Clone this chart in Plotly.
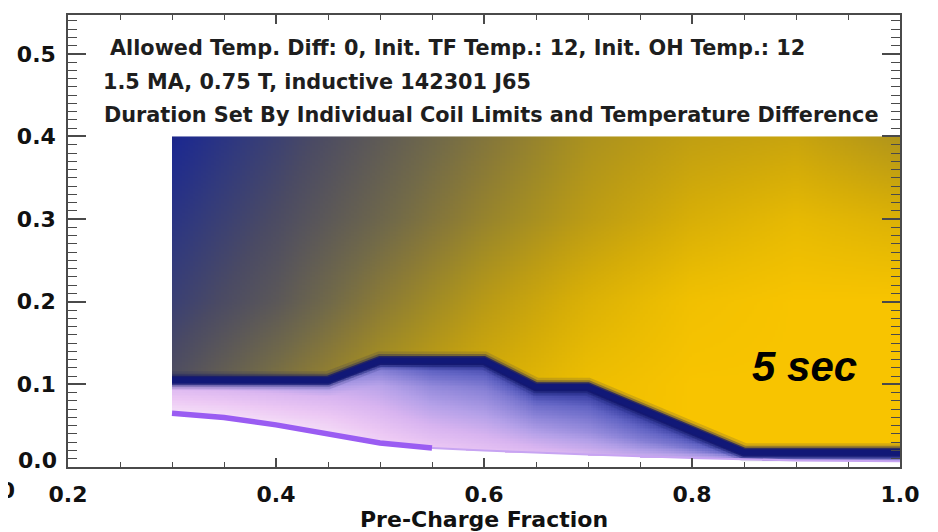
import numpy as np
import plotly.graph_objects as go

# ---------------- data ----------------
x_tick_vals = [0.2, 0.4, 0.6, 0.8, 1.0]
x_tick_text = ["0.2", "0.4", "0.6", "0.8", "1.0"]
y_tick_vals = [0.1, 0.2, 0.3, 0.4, 0.5]
y_tick_text = ["0.1", "0.2", "0.3", "0.4", "0.5"]

# edge of the individual-coil-limit region (dark blue band)
step_x = [0.30, 0.45, 0.50, 0.60, 0.65, 0.70, 0.85, 1.00]
step_y = [0.105, 0.105, 0.129, 0.129, 0.097, 0.097, 0.018, 0.018]

# lower edge of the data (purple line)
low_x = [0.30, 0.35, 0.40, 0.45, 0.50, 0.55, 0.60, 0.70, 0.80, 0.90, 1.00]
low_y = [0.065, 0.060, 0.051, 0.040, 0.029, 0.023, 0.020, 0.015, 0.011, 0.008, 0.007]

# duration above the band (estimated colour level, 5 = "5 sec")
up_x = [0.3, 0.4, 0.5, 0.6, 0.7, 0.8, 0.9, 1.0]
up_y = [0.0, 0.1, 0.2, 0.3, 0.4]
up_vals = [
    [2.90, 3.50, 4.10, 4.55, 4.90, 5.00, 5.00, 5.00],
    [2.80, 3.45, 4.05, 4.50, 4.85, 5.00, 5.00, 5.00],
    [2.50, 2.95, 3.60, 4.15, 4.60, 4.90, 5.00, 5.00],
    [2.30, 2.72, 3.22, 3.75, 4.20, 4.55, 4.75, 4.60],
    [2.10, 2.52, 3.00, 3.50, 4.00, 4.25, 4.35, 4.05],
]

# level below the band, at fractional heights between lower edge and band
lower_x = [0.30, 0.45, 0.55, 0.65, 0.75, 0.85, 1.00]
lower_t = [0.0, 0.35, 0.7, 0.9, 1.0]
lower_vals = [
    [0.35, 0.55, 0.75, 1.10, 2.0],
    [0.40, 0.60, 0.85, 1.20, 2.0],
    [0.60, 0.95, 1.30, 1.65, 2.0],
    [0.75, 1.15, 1.50, 1.78, 2.0],
    [0.95, 1.40, 1.68, 1.86, 2.0],
    [1.00, 1.50, 1.80, 1.90, 2.0],
    [1.00, 1.50, 1.80, 1.90, 2.0],
]

colors = [
    (0.00, "#ffffff"), (0.07, "#f6e2f8"), (0.12, "#ecc8f4"), (0.17, "#d8b4f0"),
    (0.22, "#b4a0e8"), (0.27, "#8c84d8"), (0.32, "#6264c4"), (0.36, "#3a40a4"),
    (0.40, "#161c7c"), (0.43, "#1e2a8e"), (0.48, "#323a7c"), (0.54, "#4a4a64"),
    (0.60, "#5e5a56"), (0.66, "#726a48"), (0.72, "#8a7a36"), (0.78, "#a28c24"),
    (0.84, "#bc9c14"), (0.90, "#d4ac08"), (0.96, "#eabc02"), (1.00, "#f8c400"),
]

# ---------------- field grid ----------------
xe = np.linspace(0.3, 1.0, 281)
ye = np.linspace(0.0, 0.4, 201)
xc = (xe[:-1] + xe[1:]) / 2
yc = (ye[:-1] + ye[1:]) / 2
step_c = np.interp(xc, step_x, step_y)
low_c = np.interp(xc, low_x, low_y)

up_arr = np.array(up_vals)
rows = np.array([np.interp(xc, up_x, r) for r in up_arr])
upper = np.array([np.interp(yc, up_y, rows[:, j]) for j in range(len(xc))]).T

lv = np.array(lower_vals)
lrows = np.array([np.interp(xc, lower_x, lv[:, k]) for k in range(len(lower_t))])
lower = np.zeros((len(yc), len(xc)))
for j in range(len(xc)):
    t = (yc - low_c[j]) / (step_c[j] - low_c[j])
    lower[:, j] = np.interp(t, lower_t, lrows[:, j])

Y = yc[:, None]
z = np.where(Y >= step_c[None, :], upper,
             np.where(Y >= low_c[None, :], lower, np.nan))

fig = go.Figure()
fig.add_trace(go.Heatmap(x=xe, y=ye, z=z, zmin=0, zmax=5, colorscale=colors,
                         showscale=False, zsmooth=False, hoverinfo="skip"))

# band with soft halo
for w, c in [(18, "rgba(20,24,100,0.15)"), (13, "rgba(20,24,100,0.32)"),
             (9, "rgba(18,22,110,0.75)"), (6, "#111877")]:
    fig.add_trace(go.Scatter(x=step_x, y=step_y, mode="lines",
                             line=dict(color=c, width=w), hoverinfo="skip",
                             showlegend=False))

# purple lower edge
fig.add_trace(go.Scatter(x=low_x[5:], y=low_y[5:], mode="lines",
                         line=dict(color="#c7a4f2", width=2), hoverinfo="skip",
                         showlegend=False))
fig.add_trace(go.Scatter(x=low_x[:6], y=low_y[:6], mode="lines",
                         line=dict(color="#9a5cf2", width=5.5), hoverinfo="skip",
                         showlegend=False))

# the page body adds an 8 px offset; the figure is sized to fit the window
OFF = 8
W, H = 938 - OFF, 532 - OFF
PL, PR, PT, PB = 68, 900, 13, 467          # plot box in window pixels
L, R, T, B = PL - OFF, OFF + W - PR, PT - OFF, OFF + H - PB
pw, ph = PR - PL, PB - PT

def px(xp):
    return (xp - PL) / pw

def py(yp):
    return (PB - yp) / ph

tick_font = dict(family="DejaVu Sans", size=22, color="#111111", weight="bold")
txt_font = dict(family="DejaVu Sans", size=20.8, color="#1e1e1e", weight="bold")

annotations = [
    dict(text="Allowed Temp. Diff: 0, Init. TF Temp.: 12, Init. OH Temp.: 12",
         x=px(108), y=py(46), font=txt_font),
    dict(text="1.5 MA, 0.75 T, inductive 142301 J65", x=px(101), y=py(80), font=txt_font),
    dict(text="Duration Set By Individual Coil Limits and Temperature Difference",
         x=px(102), y=py(113), font=txt_font),
]
for a in annotations:
    a.update(xref="paper", yref="paper", xanchor="left", yanchor="middle", showarrow=False)

annotations.append(dict(text="5 sec", x=0.856, y=0.122, xref="x", yref="y",
                        xanchor="left", yanchor="middle", showarrow=False,
                        font=dict(family="Liberation Sans", size=42, color="#000000",
                                  weight="bold", style="italic")))
annotations.append(dict(text="0.0", x=px(59), y=py(460), xref="paper", yref="paper",
                        xanchor="right", yanchor="middle", showarrow=False, font=tick_font))
# clipped label fragment at the far left edge of the picture
annotations.append(dict(text="1.0", x=px(17), y=py(491), xref="paper", yref="paper",
                        xanchor="right", yanchor="middle", showarrow=False, font=tick_font))
annotations.append(dict(text="Pre-Charge Fraction", x=px(484), y=py(520), xref="paper",
                        yref="paper", xanchor="center", yanchor="middle", showarrow=False,
                        font=dict(family="DejaVu Sans", size=22, color="#111111",
                                  weight="bold")))

axis_common = dict(showgrid=False, zeroline=False, showline=True, linecolor="#4a4a4a",
                   linewidth=1.5, mirror="ticks", ticks="inside", tickcolor="#4a4a4a",
                   tickwidth=1.5, tickfont=tick_font)

fig.update_layout(
    width=W, height=H, autosize=False,
    margin=dict(l=L, r=R, t=T, b=B),
    paper_bgcolor="white", plot_bgcolor="white",
    showlegend=False,
    xaxis=dict(range=[0.2, 1.0], tickvals=x_tick_vals, ticktext=x_tick_text,
               ticklen=9, ticklabelstandoff=7,
               minor=dict(dtick=0.05, tick0=0.2, ticklen=5, ticks="inside",
                          tickcolor="#4a4a4a", tickwidth=1.2),
               **axis_common),
    yaxis=dict(range=[0.0, 0.547], tickvals=y_tick_vals, ticktext=y_tick_text,
               ticklen=18, ticklabelstandoff=6,
               minor=dict(dtick=0.01, tick0=0, ticklen=9, ticks="inside",
                          tickcolor="#4a4a4a", tickwidth=1.2),
               **axis_common),
    annotations=annotations,
)

fig.write_html("out.html")
